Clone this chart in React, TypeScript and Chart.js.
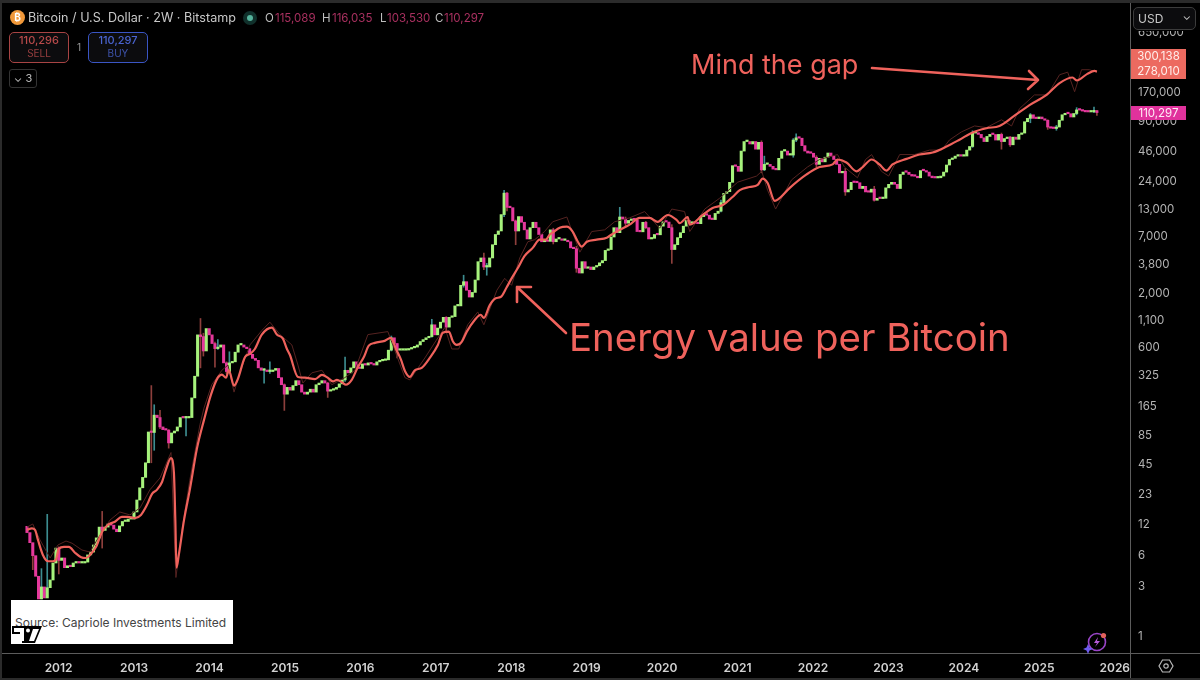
import { useEffect, useRef } from "react"
import { Chart, registerables } from "chart.js"

Chart.register(...registerables)

// 2W Bitstamp closes, oldest first. Open of a bar is the close before it.
const firstOpen = 11.5
const closes = [
  10, 8, 6, 3.8, 2.3, 3, 2.35, 2.95, 3.5, 5.1,
  7.1, 5.4, 5.7, 4.6, 4.8, 4.7, 5.1, 5.2, 5.1, 5.1,
  5.2, 6.1, 6.5, 7.6, 8.9, 11.3, 10.5, 11.3, 12.1, 11.8,
  10.8, 10.2, 11.6, 12.8, 12.8, 13.5, 13.5, 15.8, 20.6, 27,
  34, 47, 93, 92, 135, 128, 104, 98, 97, 73,
  91, 95, 104, 128, 127, 127, 128, 198, 320, 800,
  770, 560, 920, 800, 660, 590, 610, 640, 430, 355,
  430, 440, 545, 640, 640, 610, 590, 520, 475, 455,
  385, 365, 365, 355, 355, 365, 380, 310, 265, 215,
  250, 235, 260, 290, 265, 225, 215, 225, 240, 225,
  265, 275, 290, 275, 230, 235, 240, 250, 270, 295,
  365, 345, 385, 440, 390, 380, 420, 410, 430, 420,
  410, 440, 450, 455, 460, 570, 750, 660, 570, 570,
  570, 572, 585, 600, 610, 640, 690, 720, 750, 770,
  1000, 800, 930, 1060, 1180, 950, 1180, 1200, 1520, 1520,
  2400, 2600, 2150, 1850, 2050, 2700, 4050, 4400, 3600, 3600,
  4400, 5900, 7400, 8000, 11500, 18500, 13500, 13400, 10000, 8000,
  11000, 9700, 8200, 6700, 8600, 9700, 8600, 7400, 6300, 6400,
  6350, 8200, 6300, 6700, 6700, 6500, 6500, 6300, 5500, 5400,
  3500, 3150, 4050, 3500, 3600, 3400, 3600, 3700, 3950, 4150,
  5200, 5300, 7000, 8600, 7700, 10900, 10400, 9500, 10100, 10300,
  10250, 7900, 7850, 9700, 8600, 6700, 6800, 7400, 7350, 8900,
  9800, 9750, 8600, 5300, 5900, 6900, 7700, 8900, 10100, 9500,
  9500, 9450, 9400, 11000, 11400, 11350, 10400, 10300, 11800, 12400,
  15000, 18400, 19100, 23500, 34000, 33500, 30000, 47000, 58000, 58000,
  55000, 58000, 49000, 57000, 31000, 35000, 35000, 33500, 31500, 31000,
  40000, 47000, 47000, 43000, 43000, 60000, 63000, 62500, 53000, 47000,
  45000, 44800, 41000, 35000, 40000, 37000, 41000, 45000, 42000, 39000,
  35000, 29000, 30000, 19000, 20000, 23500, 23400, 23300, 20500, 21500,
  19000, 18900, 20200, 15800, 16500, 16400, 16500, 20800, 22500, 23500,
  22500, 20500, 28000, 29500, 29400, 28000, 27000, 26900, 26000, 30500,
  30400, 29500, 27000, 26000, 25900, 26000, 27000, 29500, 34500, 39000,
  40000, 42000, 43000, 42000, 42100, 48000, 52000, 70000, 70500, 68000,
  63000, 58000, 65000, 68000, 67800, 60000, 68000, 58000, 62000, 64000,
  54000, 64000, 61000, 68000, 70000, 90000, 97000, 105000, 97000, 96500,
  100000, 96000, 93000, 80000, 78000, 77500, 80000, 93000, 105000, 108000,
  107500, 100000, 108000, 117000, 116500, 114000, 112000, 111800, 112000, 115089,
  110297,
]

// only the wicks long enough to see at this zoom
const wickBars = [
  2, 5, 7, 11, 26, 43, 44, 46, 49, 55, 60, 61, 65, 66, 69, 70, 82, 84, 89, 104, 110, 126, 128,
  140, 145, 151, 158, 159, 165, 166, 169, 182, 190, 205, 207, 214, 223, 240, 254, 255, 265, 266,
  273, 283, 293, 327, 337, 340, 347, 353, 356, 363, 369, 370,
]
const wickHighs = [
  7.6, 4.5, 15, 7.3, 16, 260, 170, 150, 98, 130, 1150, 830, 680, 720, 440, 550, 380, 440, 270, 280, 490, 780, 660,
  1130, 1200, 3000, 4900, 3900, 19700, 18800, 10200, 8500, 5700, 13500, 10900, 9900, 9200, 15900, 59000, 42000, 62000, 69000,
  42500, 32000, 21500, 73700, 70000, 65000, 108000, 94000, 83000, 123000, 124400, 116035,
]
const wickLows = [
  4.4, 2.3, 2.4, 4, 7.1, 47, 62, 100, 65, 85, 385, 500, 390, 580, 340, 340, 275, 340, 150, 200, 285, 560, 480,
  760, 880, 2300, 3400, 3000, 11000, 12500, 5900, 6000, 3200, 8000, 9000, 8400, 3900, 12200, 29000, 30500, 41000, 58000,
  33000, 17600, 15500, 51000, 49000, 52000, 88000, 76000, 74500, 105000, 110000, 103530,
]

// energy value line, positions are in bar numbers
const energyBars = [
  0, 1.7, 2.8, 3.8, 5.5, 7.3, 9, 10, 11, 12.8, 14.5, 16.6, 18.7, 20.4, 21.8, 23.9, 25.9, 28, 30.4, 32.8,
  34.9, 37.3, 39.4, 41.5, 43.2, 44.9, 46.7, 48, 49.8, 50.8, 51.3, 51.7, 52.5, 54.3, 56.3, 58.8, 61.2, 63.6, 66, 67.4,
  68.8, 69.8, 71.6, 72.9, 75.4, 77.1, 78.8, 81.2, 84.7, 86.4, 88.5, 89.9, 90.9, 93.7, 96.1, 99.6, 102, 104, 105.8, 107.2,
  108.9, 110.3, 112.3, 114.4, 116.5, 118.2, 120.3, 123.7, 125.8, 127.6, 129.3, 130.7, 132.4, 134.1, 136.5, 139.3, 142.1, 143.8, 145.9, 147.3,
  148.6, 150.4, 152.1, 154.9, 156.9, 158, 160, 162.1, 163.8, 165.9, 167.6, 169.7, 172.1, 174.9, 177.3, 179.4, 180.8, 181.8, 184.2, 186.7,
  188.7, 190.5, 191.8, 193.6, 197, 200.5, 202.2, 205, 208.4, 211.9, 215.3, 218.1, 221.6, 224.7, 225.7, 228.5, 229.2, 233.7, 237.1, 240.6,
  244, 246.5, 249.9, 252.7, 254.4, 256.1, 258.6, 259.6, 263.8, 269.6, 274.1, 278.6, 280.3, 283.4, 286.9, 289, 292.1, 294.8, 297.2, 299.3,
  304.2, 308.7, 313.2, 318, 322.5, 327, 331.8, 336.3, 341.5, 346.7, 352.6, 357.1, 361.6, 363, 366.7, 369.2, 370,
]
const energyValues = [
  10.6, 11, 10.6, 8.5, 6.1, 5.3, 5.3, 5.5, 7, 7.3, 7.3, 6.4, 5.8, 5.7, 6.1, 7.3, 10.1, 11.9, 12.7, 14.2,
  14.2, 13.8, 14.8, 18.5, 23.5, 25.8, 30.7, 40, 52, 38, 13.2, 4.6, 6.1, 13.2, 25.8, 65, 121, 212, 310, 332,
  310, 365, 260, 300, 490, 525, 585, 805, 940, 805, 735, 585, 515, 315, 310, 300, 330, 310, 285, 295,
  280, 265, 295, 390, 490, 630, 670, 700, 750, 585, 465, 360, 315, 365, 385, 480, 640, 840, 860, 690,
  640, 690, 860, 1120, 1250, 1165, 1540, 1800, 1850, 2300, 2800, 3500, 4600, 5500, 6600, 6600, 7400, 7700, 8600, 8800,
  7900, 6300, 5650, 6300, 6600, 6900, 7400, 8200, 9200, 10700, 10700, 9800, 11400, 10200, 9500, 10900, 9200, 11400, 13300, 14200,
  17000, 19800, 21200, 22200, 25500, 23200, 15600, 16000, 20800, 28000, 33000, 35000, 39000, 36500, 30000, 33000, 39000, 35000, 30500, 35000,
  39500, 43500, 45500, 52000, 60500, 71000, 78000, 82000, 103000, 130000, 163000, 212000, 240000, 225000, 260000, 278010, 273000,
]

// the thin unsmoothed line behind it
const rawBars = [
  0, 2, 4.5, 8, 10.7, 13.5, 15.6, 19, 21.8, 24.2, 28.7, 32.1, 35.6, 39.1, 42.5, 46, 49.8, 51.5, 53.6, 56.3,
  59.8, 61.2, 63.9, 67.4, 69.5, 71.6, 73.6, 77.1, 81.2, 84, 87.5, 91.6, 93.7, 95.4, 98.5, 102, 105.4, 109.9, 113.4, 117.9,
  124.8, 126.5, 130.7, 132.4, 137.6, 141.4, 144.5, 146.9, 149.3, 152.4, 155.9, 158, 162.5, 165.2, 167.6, 170.4, 173.2, 175.6, 179, 181.8,
  186.7, 191.2, 195.3, 199.8, 203.2, 208.4, 213.6, 218.8, 223, 227.4, 229.2, 234.4, 239.5, 245.8, 252.3, 254.1, 256.1, 258.9, 264.4, 269.9,
  274.1, 280.3, 282.7, 287.2, 290, 292.1, 295.5, 298, 301.8, 306.9, 312.1, 316.3, 319, 323.2, 327.7, 331.8, 337, 340.5, 343.2, 348.4,
  352.9, 357.1, 359.9, 362.3, 364.7, 367.4, 369.9,
]
const rawValues = [
  11.3, 12.1, 8.5, 5.7, 7.6, 8.3, 7.9, 6.8, 6.5, 8.5, 13.2, 15.8, 14.8, 17.3, 25.8, 33.6, 59, 3.7, 10.6, 32,
  109, 158, 265, 365, 410, 225, 345, 640, 880, 1060, 805, 640, 410, 275, 345, 365, 265, 310, 365, 805,
  860, 640, 310, 295, 480, 700, 940, 585, 585, 1000, 1330, 1000, 2150, 2800, 2400, 4400, 6300, 6600, 7900, 9800,
  10900, 5000, 7900, 8200, 9800, 10700, 12300, 8500, 13000, 12300, 7900, 13000, 16500, 23600, 27000, 30000, 19800, 13000, 24800, 33000,
  39000, 43500, 33000, 26000, 39000, 43500, 30000, 27000, 43500, 43500, 48000, 48000, 60000, 72000, 82000, 79000, 94000, 82000, 120000, 163000,
  163000, 255000, 270000, 175000, 285000, 285000, 270000,
]

const yearTicks = [2012, 2013, 2014, 2015, 2016, 2017, 2018, 2019, 2020, 2021, 2022, 2023, 2024, 2025, 2026]
const priceTicks = [1, 3, 6, 12, 23, 45, 85, 165, 325, 600, 1100, 2000, 3800, 7000, 13000, 24000, 46000, 90000, 170000, 650000]

const firstBarYear = 2011.581
const barStep = 14 / 365.25
const barYear = (bar: number) => firstBarYear + bar * barStep

const opens = [firstOpen, ...closes]
const GREEN = "#a6f27c"
const PINK = "#e5389c"
const RED = "#ef625c"
const FONT = "Inter, 'Noto Sans', sans-serif"

// hand drawn arrows on top of the chart
const arrowsPlugin = {
  id: "arrows",
  afterDraw(chart: Chart) {
    const ctx = chart.ctx
    ctx.save()
    ctx.strokeStyle = RED
    ctx.lineWidth = 2.6
    ctx.lineCap = "round"
    ctx.lineJoin = "round"
    ctx.beginPath()
    ctx.moveTo(872, 68)
    ctx.lineTo(1038, 80)
    ctx.moveTo(1029, 71)
    ctx.lineTo(1038, 80)
    ctx.lineTo(1028, 89)
    ctx.moveTo(566, 333)
    ctx.lineTo(517, 287)
    ctx.moveTo(517, 302)
    ctx.lineTo(517, 287)
    ctx.lineTo(531, 287)
    ctx.stroke()
    ctx.restore()
  },
}

function Abs({ style, children }: { style: React.CSSProperties; children?: React.ReactNode }) {
  return <div style={{ position: "absolute", whiteSpace: "nowrap", ...style }}>{children}</div>
}

function TradeButton({ left, color, textColor, price, side }: { left: number; color: string; textColor: string; price: string; side: string }) {
  return (
    <Abs
      style={{
        left,
        top: 32,
        width: 58,
        height: 28,
        border: `1px solid ${color}`,
        borderRadius: 5,
        background: "#0c0c0e",
        textAlign: "center",
        color: textColor,
        fontSize: 11,
        lineHeight: "13px",
        paddingTop: 1,
      }}
    >
      <div style={{ fontWeight: 500 }}>{price}</div>
      <div style={{ fontSize: 10, opacity: 0.8 }}>{side}</div>
    </Abs>
  )
}

export default function App() {
  const chartRef = useRef<HTMLCanvasElement | null>(null)

  useEffect(() => {
    if (!chartRef.current) return
    const chart = new Chart(chartRef.current, {
      type: "bar",
      data: {
        datasets: [
          {
            type: "line",
            order: 0,
            data: energyBars.map((bar, i) => ({ x: barYear(bar), y: energyValues[i] })),
            borderColor: RED,
            borderWidth: 2.2,
            pointRadius: 0,
            cubicInterpolationMode: "monotone",
          },
          {
            type: "line",
            order: 1,
            data: rawBars.map((bar, i) => ({ x: barYear(bar), y: rawValues[i] })),
            borderColor: "#562321",
            borderWidth: 1,
            pointRadius: 0,
          },
          {
            order: 2,
            data: closes.map((close, i) => ({ x: barYear(i), y: [opens[i], close] })),
            backgroundColor: closes.map((close, i) => (close >= opens[i] ? GREEN : PINK)),
            barThickness: 2.4,
            minBarLength: 1.5,
            grouped: false,
          },
          {
            order: 3,
            data: wickBars.map((bar, i) => ({ x: barYear(bar), y: [wickLows[i], wickHighs[i]] })),
            backgroundColor: wickBars.map((bar) => (closes[bar] >= opens[bar] ? "#3d8d90" : "#8d3f3c")),
            barThickness: 1,
            grouped: false,
          },
        ],
      } as any,
      options: {
        responsive: false,
        animation: false,
        events: [],
        layout: { padding: { top: 4, left: 3 } },
        plugins: { legend: { display: false }, tooltip: { enabled: false } },
        scales: {
          x: {
            type: "linear",
            min: 2011.263,
            max: 2026.202,
            bounds: "data",
            offset: false,
            grid: { display: false, drawTicks: false },
            border: { display: false },
            afterBuildTicks: (axis: any) => {
              axis.ticks = yearTicks.map((value) => ({ value }))
            },
            afterFit: (axis: any) => {
              axis.height = 27
              axis.paddingLeft = 0
              axis.paddingRight = 0
            },
            ticks: {
              autoSkip: false,
              maxRotation: 0,
              padding: 8,
              color: "#d2d2d2",
              font: { family: FONT, size: 12, weight: 600 },
              callback: (value: any) => String(value),
            },
          },
          y: {
            type: "logarithmic",
            position: "right",
            min: 0.694,
            max: 1223000,
            bounds: "data",
            grid: { display: false, drawTicks: false },
            border: { display: false },
            afterBuildTicks: (axis: any) => {
              axis.ticks = priceTicks.map((value) => ({ value }))
            },
            afterFit: (axis: any) => {
              axis.width = 70
              axis.paddingTop = 0
              axis.paddingBottom = 0
            },
            ticks: {
              autoSkip: false,
              crossAlign: "near",
              padding: 8,
              color: "#b4b4b4",
              font: { family: FONT, size: 11.5 },
              callback: (value: any) => Number(value).toLocaleString("en-US"),
            },
          },
        },
      } as any,
      plugins: [arrowsPlugin],
    })
    return () => chart.destroy()
  }, [])

  return (
    <div style={{ position: "fixed", left: 0, top: 0, width: 1200, height: 680, background: "#000", overflow: "hidden", fontFamily: FONT }}>
      <canvas ref={chartRef} width={1200} height={680} style={{ position: "absolute", left: 0, top: 0 }} />

      {/* window frame and axis rules */}
      <Abs style={{ left: 0, top: 0, width: 1200, height: 3, background: "#2b2b2b" }} />
      <Abs style={{ left: 0, top: 0, width: 2, height: 680, background: "#2b2b2b" }} />
      <Abs style={{ left: 0, top: 678, width: 1200, height: 2, background: "#2b2b2b" }} />
      <Abs style={{ left: 2, top: 653, width: 1198, height: 1, background: "#5c5c5c" }} />
      <Abs style={{ left: 1130, top: 3, width: 1, height: 675, background: "#5c5c5c" }} />

      {/* header */}
      <Abs style={{ left: 10, top: 10, width: 15, height: 15, borderRadius: 8, background: "#f0983a", color: "#fff", fontSize: 10, fontWeight: 700, lineHeight: "15px", textAlign: "center" }}>₿</Abs>
      <Abs style={{ left: 28, top: 10, color: "#c8c8c8", fontSize: 12.6, lineHeight: "16px" }}>Bitcoin / U.S. Dollar · 2W · Bitstamp</Abs>
      <Abs style={{ left: 243, top: 11, width: 14, height: 14, borderRadius: 7, background: "#10302b" }} />
      <Abs style={{ left: 247, top: 15, width: 6, height: 6, borderRadius: 3, background: "#55b39c" }} />
      <Abs style={{ left: 265, top: 10, color: "#bdbdbd", fontSize: 11.5, lineHeight: "16px" }}>O</Abs>
      <Abs style={{ left: 275, top: 10, color: "#a8305f", fontSize: 11.5, lineHeight: "16px" }}>115,089</Abs>
      <Abs style={{ left: 322, top: 10, color: "#bdbdbd", fontSize: 11.5, lineHeight: "16px" }}>H</Abs>
      <Abs style={{ left: 332, top: 10, color: "#a8305f", fontSize: 11.5, lineHeight: "16px" }}>116,035</Abs>
      <Abs style={{ left: 380, top: 10, color: "#bdbdbd", fontSize: 11.5, lineHeight: "16px" }}>L</Abs>
      <Abs style={{ left: 387, top: 10, color: "#a8305f", fontSize: 11.5, lineHeight: "16px" }}>103,530</Abs>
      <Abs style={{ left: 435, top: 10, color: "#bdbdbd", fontSize: 11.5, lineHeight: "16px" }}>C</Abs>
      <Abs style={{ left: 444, top: 10, color: "#a8305f", fontSize: 11.5, lineHeight: "16px" }}>110,297</Abs>

      <TradeButton left={9} color="#a84444" textColor="#b84a4a" price="110,296" side="SELL" />
      <Abs style={{ left: 77, top: 40, color: "#9a9a9a", fontSize: 10, lineHeight: "14px" }}>1</Abs>
      <TradeButton left={88} color="#3a55c4" textColor="#4a64d0" price="110,297" side="BUY" />
      <Abs style={{ left: 9, top: 69, width: 26, height: 17, border: "1px solid #333", borderRadius: 3, color: "#bdbdbd", fontSize: 11, lineHeight: "17px", textAlign: "center" }}>⌄ 3</Abs>

      {/* annotations */}
      <Abs style={{ left: 691, top: 48, color: RED, fontSize: 27, lineHeight: "34px" }}>Mind the gap</Abs>
      <Abs style={{ left: 569, top: 313, color: RED, fontSize: 38.4, lineHeight: "48px" }}>Energy value per Bitcoin</Abs>

      {/* right hand price tags */}
      <Abs style={{ left: 1131, top: 3, width: 69, height: 28, background: "#000" }} />
      <Abs style={{ left: 1133, top: 7, width: 61, height: 21, border: "1px solid #3c3c3c", borderRadius: 5, color: "#c8c8c8", fontSize: 12, lineHeight: "21px", background: "#0c0c0e" }}>
        <span style={{ marginLeft: 4 }}>USD</span>
        <span style={{ position: "absolute", right: 4, top: -2, fontSize: 11 }}>⌄</span>
      </Abs>
      <Abs style={{ left: 1131, top: 49, width: 55, height: 30, background: "#ec6a60", color: "#ffeeea", fontSize: 11.5, lineHeight: "15px", textAlign: "center" }}>
        <div>300,138</div>
        <div>278,010</div>
      </Abs>
      <Abs style={{ left: 1131, top: 106, width: 55, height: 14, background: "#e0329c", color: "#ffeaf5", fontSize: 11.5, lineHeight: "14px", textAlign: "center" }}>110,297</Abs>

      {/* source stamp and logo */}
      <Abs style={{ left: 11, top: 600, width: 222, height: 44, background: "#fff", color: "#444", fontSize: 12, lineHeight: "46px", paddingLeft: 4, boxSizing: "border-box" }}>Source: Capriole Investments Limited</Abs>
      <svg width={30} height={18} style={{ position: "absolute", left: 12, top: 626 }}>
        <path d="M0 0H30L23 17H10V8H0Z" fill="#000" />
        <path d="M2 2H12V15H8V6H2Z" fill="#fff" />
        <circle cx={16} cy={4.5} r={2} fill="#fff" />
        <path d="M21 3H27L22 15H17Z" fill="#fff" />
      </svg>

      {/* bottom right icons */}
      <svg width={28} height={26} style={{ position: "absolute", left: 1083, top: 630 }}>
        <circle cx={14} cy={12} r={8.5} fill="none" stroke="#9a45c8" strokeWidth={1.6} />
        <path d="M15 7L11 13H14L12 17L17 11H14Z" fill="#b55ad8" />
        <path d="M5 14L6.5 17.5L10 19L6.5 20.5L5 24L3.5 20.5L0 19L3.5 17.5Z" fill="#6f5cf0" />
        <circle cx={20.5} cy={5.5} r={2.6} fill="#e0605c" />
      </svg>
      <svg width={16} height={16} style={{ position: "absolute", left: 1158, top: 658 }}>
        <path d="M4.5 2H11.5L15 8L11.5 14H4.5L1 8Z" fill="none" stroke="#b8b8b8" strokeWidth={1.2} />
        <circle cx={8} cy={8} r={2.2} fill="none" stroke="#b8b8b8" strokeWidth={1.2} />
      </svg>
    </div>
  )
}
